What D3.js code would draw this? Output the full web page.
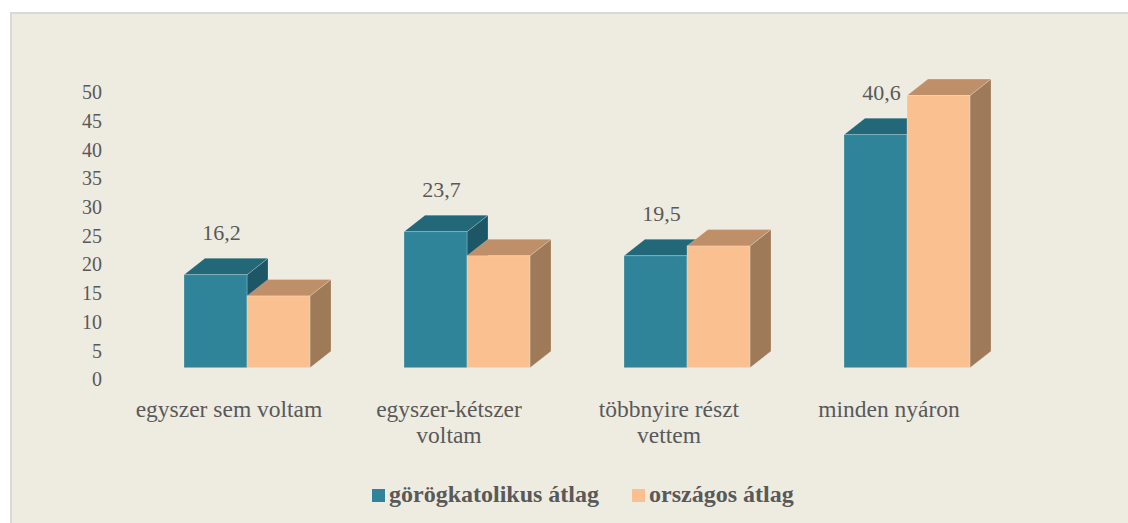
<!DOCTYPE html>
<html>
<head>
<meta charset="utf-8">
<script src="https://cdn.jsdelivr.net/npm/d3@7"></script>
<style>
  html, body { margin: 0; padding: 0; background: #ffffff; }
  svg { display: block; }
</style>
</head>
<body>
<svg id="chart" width="1128" height="523" font-family="Liberation Serif"></svg>
<script>
// Summer camp attendance, by category
const categories = [
  ["egyszer sem voltam"],
  ["egyszer-kétszer", "voltam"],
  ["többnyire részt", "vettem"],
  ["minden nyáron"]
];
const seriesNames = ["görögkatolikus átlag", "országos átlag"];
const greekCatholic = [16.2, 23.7, 19.5, 40.6];
const national = [12.5, 19.5, 21.2, 47.4];
const yTicks = [0, 5, 10, 15, 20, 25, 30, 35, 40, 45, 50];

const seriesValues = [greekCatholic, national];
const palette = [
  { front: "#30849a", top: "#236879", side: "#1d5767" },
  { front: "#fac08f", top: "#bf8f69", side: "#9f7a58" }
];
const FONT = '"Liberation Serif"';
const TEXT_COLOR = "#595959";

const svg = d3.select("#chart");

// chart panel
svg.append("rect")
  .attr("x", 11).attr("y", 13)
  .attr("width", 1130).attr("height", 520)
  .attr("fill", "#eeebe0")
  .attr("stroke", "#d9d9d9").attr("stroke-width", 2);

// value scale for the bars (front plane)
const y = d3.scaleLinear().domain([0, 50]).range([367.7, 80.7]);
// the value axis sits on the back wall, slightly lower in the projection
const yAxisScale = y.copy().range([379.3, 92.3]);

const catKeys = categories.map(c => c.join(" "));
const x0 = d3.scaleBand().domain(catKeys).range([137, 1017]).paddingInner(0);
const x1 = d3.scaleBand().domain(seriesNames).range([0, 126]);
const groupInset = (x0.bandwidth() - 126) / 2;

// 3D depth offset
const depthX = 21, depthY = 16.5;

// value axis labels
const axisG = svg.append("g")
  .attr("transform", "translate(102,0)")
  .call(d3.axisLeft(yAxisScale).tickValues(yTicks).tickSize(0).tickPadding(0));
axisG.attr("font-family", "Liberation Serif").attr("font-size", 20);
axisG.select(".domain").remove();
axisG.selectAll("text")
  .style("font-family", FONT)
  .style("font-size", "20px")
  .attr("fill", TEXT_COLOR);

// bars: for each category draw both boxes, left to right
const barsG = svg.append("g");
catKeys.forEach((key, ci) => {
  seriesNames.forEach((name, si) => {
    const v = seriesValues[si][ci];
    const xl = x0(key) + groupInset + x1(name);
    const xr = xl + x1.bandwidth();
    const yt = y(v), yb = y(0);
    const col = palette[si];
    const g = barsG.append("g");
    g.append("polygon")
      .attr("points", [[xr, yt], [xr + depthX, yt - depthY], [xr + depthX, yb - depthY], [xr, yb]].join(" "))
      .attr("fill", col.side)
      .attr("stroke", "rgba(255,255,255,0.25)").attr("stroke-width", 0.8);
    g.append("polygon")
      .attr("points", [[xl, yt], [xr, yt], [xr + depthX, yt - depthY], [xl + depthX, yt - depthY]].join(" "))
      .attr("fill", col.top)
      .attr("stroke", "rgba(255,255,255,0.25)").attr("stroke-width", 0.8);
    g.append("rect")
      .attr("x", xl).attr("y", yt)
      .attr("width", xr - xl).attr("height", yb - yt)
      .attr("fill", col.front)
      .attr("stroke", "rgba(255,255,255,0.3)").attr("stroke-width", 0.8);
  });
});

// data labels for the first series
svg.append("g").selectAll("text")
  .data(greekCatholic)
  .join("text")
  .attr("x", (d, i) => x0(catKeys[i]) + groupInset + x1(seriesNames[0]) + x1.bandwidth() / 2 + 6)
  .attr("y", d => y(d) - depthY - 26)
  .attr("text-anchor", "middle")
  .attr("dominant-baseline", "central")
  .attr("fill", TEXT_COLOR)
  .style("font-family", FONT)
  .style("font-size", "22px")
  .text(d => d3.format(".1f")(d).replace(".", ","));

// category labels
const catG = svg.append("g");
categories.forEach((lines, i) => {
  const cx = x0(catKeys[i]) + x0.bandwidth() / 2 - 18;
  const t = catG.append("text")
    .attr("text-anchor", "middle")
    .attr("fill", TEXT_COLOR)
    .style("font-family", FONT)
    .style("font-size", "23.5px");
  lines.forEach((ln, li) => {
    t.append("tspan")
      .attr("x", cx)
      .attr("y", 416.7 + li * 26.7)
      .text(ln);
  });
});

// legend
const legendItems = [
  { name: seriesNames[0], color: palette[0].front, x: 372 },
  { name: seriesNames[1], color: palette[1].front, x: 632 }
];
const legG = svg.append("g");
legendItems.forEach(it => {
  legG.append("rect")
    .attr("x", it.x).attr("y", 489)
    .attr("width", 13).attr("height", 13)
    .attr("fill", it.color);
  legG.append("text")
    .attr("x", it.x + 17).attr("y", 502)
    .attr("fill", TEXT_COLOR)
    .style("font-family", FONT)
    .style("font-size", "24px")
    .style("font-weight", "bold")
    .text(it.name);
});
</script>
</body>
</html>
